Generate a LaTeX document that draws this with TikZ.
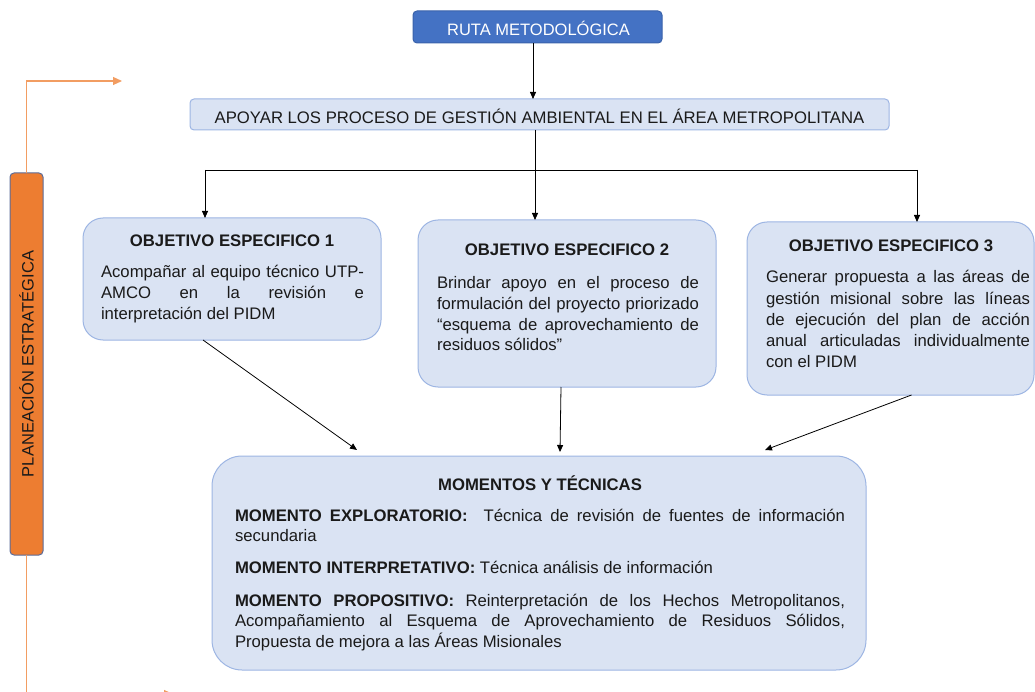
\documentclass[tikz,border=0pt]{standalone}
\usepackage{fontspec}
\setmainfont{Liberation Sans}
\usetikzlibrary{arrows.meta}
\hyphenpenalty=10000
\tolerance=9999
\emergencystretch=20pt
\definecolor{boxfill}{HTML}{DAE3F3}
\definecolor{boxline}{HTML}{9DB5E3}
\definecolor{rutafill}{HTML}{4472C4}
\definecolor{rutaline}{HTML}{3A62AA}
\definecolor{orangefill}{HTML}{ED7D31}
\definecolor{orangeline}{HTML}{F29D62}
\definecolor{orangeborder}{HTML}{5B6B99}
\definecolor{txt}{HTML}{1A1A1A}
\begin{document}
\begin{tikzpicture}[x=1pt,y=-1pt,
  every node/.style={inner sep=0pt, outer sep=0pt, text=txt},
  lightbox/.style={draw=boxline, fill=boxfill, line width=1pt, anchor=north west},
  objbox/.style={lightbox, rounded corners=20pt},
  titletxt/.style={font=\fontsize{16.7}{19}\selectfont\bfseries},
  bodytxt/.style={font=\fontsize{16.7}{20.6}\selectfont, align=justify, anchor=base west},
  arr/.style={draw=black, line width=0.8pt, -{Triangle[length=7pt,width=6pt]}},
  orangearr/.style={draw=orangeline, line width=1.2pt, -{Triangle[length=9pt,width=8pt]}}
]
\useasboundingbox (0,0) rectangle (1035,692);

% top boxes
\node[draw=rutaline, fill=rutafill, line width=1pt, rounded corners=4pt, anchor=north west,
      minimum width=249pt, minimum height=32pt] (ruta) at (413,11) {};
\node[text=white, font=\fontsize{16.5}{19}\selectfont] (rutat) at (538.5,28) {RUTA METODOLÓGICA};

\node[lightbox, rounded corners=4pt, minimum width=699pt, minimum height=31pt] (apoyar) at (190,99) {};
\node[font=\fontsize{16.7}{19}\selectfont] (apoyart) at (539.5,116) {APOYAR LOS PROCESO DE GESTIÓN AMBIENTAL EN EL ÁREA METROPOLITANA};

% objective boxes
\node[objbox, minimum width=298pt, minimum height=122pt] (o1) at (83,218) {};
\node[titletxt] (o1t) at (232,241) {OBJETIVO ESPECIFICO 1};
\node[bodytxt, text width=263pt] (o1b) at (101,278) {Acompañar al equipo técnico UTP-\linebreak AMCO en la revisión e\linebreak interpretación del PIDM};

\node[objbox, minimum width=298pt, minimum height=167pt] (o2) at (418,220) {};
\node[titletxt] (o2t) at (567,250) {OBJETIVO ESPECIFICO 2};
\node[bodytxt, text width=262pt] (o2b) at (437,289) {Brindar apoyo en el proceso de formulación del proyecto priorizado “esquema de aprovechamiento de residuos sólidos”};

\node[objbox, minimum width=287pt, minimum height=173pt] (o3) at (747,222) {};
\node[titletxt] (o3t) at (891,246) {OBJETIVO ESPECIFICO 3};
\node[bodytxt, text width=264pt, font=\fontsize{16.7}{21.2}\selectfont] (o3b) at (766,283) {Generar propuesta a las áreas de\linebreak gestión misional sobre las líneas\linebreak de ejecución del plan de acción\linebreak anual articuladas individualmente\linebreak con el PIDM};

% bottom box
\node[lightbox, rounded corners=30pt, minimum width=654pt, minimum height=214pt] (mom) at (212,456) {};
\node[titletxt] (momt) at (540,483) {MOMENTOS Y TÉCNICAS};
\node[bodytxt, text width=610pt, font=\fontsize{16.7}{20.3}\selectfont] (momb) at (235,521) {%
\textbf{MOMENTO EXPLORATORIO:}\ \ Técnica de revisión de fuentes de información secundaria\par\vspace{12pt}
\textbf{MOMENTO INTERPRETATIVO:} Técnica análisis de información\par\vspace{12.5pt}
\textbf{MOMENTO PROPOSITIVO:} Reinterpretación de los Hechos Metropolitanos, Acompañamiento al Esquema de Aprovechamiento de Residuos Sólidos, Propuesta de mejora a las Áreas Misionales};

% orange side bar
\node[draw=orangeborder, fill=orangefill, line width=1pt, rounded corners=4pt, anchor=north west,
      minimum width=33pt, minimum height=382pt] (pe) at (10,173) {};
\node[rotate=90, font=\fontsize{16.5}{19}\selectfont] (pet) at (pe.center) {PLANEACIÓN ESTRATÉGICA};
\coordinate (oc1) at (122,81);
\coordinate (oc2) at (173,694);
\draw[orangearr] (pe.north) |- (oc1);
\draw[orangearr] (pe.south) |- (oc2);

% connectors
\draw[arr] ([xshift=-4.5pt]ruta.south) -- ([xshift=-6.5pt]apoyar.north);
\draw[arr] ([xshift=-4.5pt]apoyar.south) -- ([xshift=-32pt]o2.north);
\coordinate (bl) at (205,170);
\coordinate (brr) at (917,170);
\draw[line width=0.8pt] (bl) -- (brr);
\draw[arr] (bl) -- (bl |- o1.north);
\draw[arr] (brr) -- (brr |- o3.north);
\draw[arr] ([xshift=-29pt]o1.south) -- ([xshift=-182pt,yshift=6pt]mom.north);
\draw[arr] ([xshift=-6pt]o2.south) -- ([xshift=21pt,yshift=4pt]mom.north);
\draw[arr] ([xshift=21pt]o3.south) -- ([xshift=226pt,yshift=6pt]mom.north);
\end{tikzpicture}
\end{document}
